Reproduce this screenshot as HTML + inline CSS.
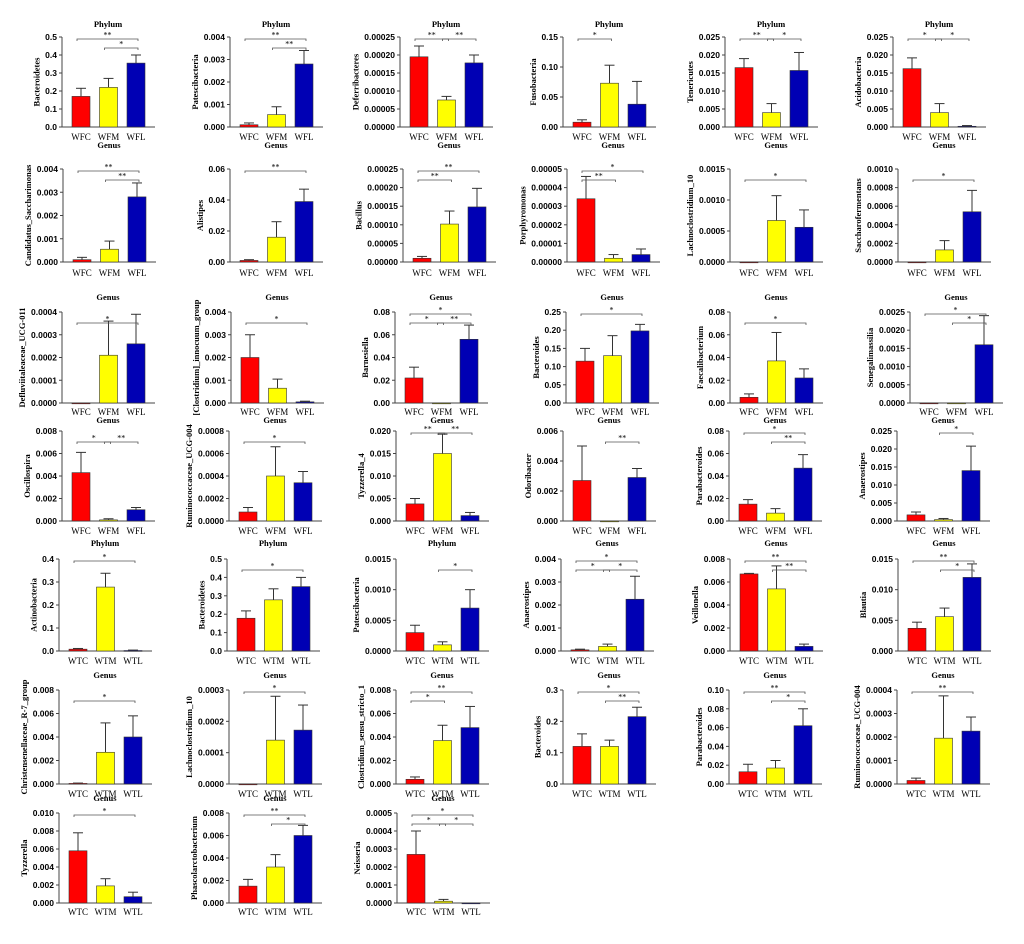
<!DOCTYPE html>
<html><head><meta charset="utf-8"><style>
body{margin:0;background:#fff}
svg text{font-family:"Liberation Serif",serif}
</style></head><body>
<svg id="s" width="1024" height="939" xmlns="http://www.w3.org/2000/svg"></svg>
<script>
const rows=[
 {title:27,top:37,bot:127,lab:140,xl:["WFC","WFM","WFL"],cx:[81,249,419,582,744,912]},
 {title:148,top:169,bot:262,lab:276,xl:["WFC","WFM","WFL"],cx:[82,249,422,586,749,917]},
 {title:300,top:312,bot:403,lab:415,xl:["WFC","WFM","WFL"],cx:[81,250,414,585,749,929]},
 {title:423,top:431,bot:521,lab:534,xl:["WFC","WFM","WFL"],cx:[81,248,415,582,748,916]},
 {title:546,top:559,bot:651,lab:664,xl:["WTC","WTM","WTL"],cx:[78,246,415,580,749,917]},
 {title:678,top:690,bot:784,lab:797,xl:["WTC","WTM","WTL"],cx:[78,248,415,582,748,916]},
 {title:801,top:813,bot:903,lab:915,xl:["WTC","WTM","WTL"],cx:[78,248,416]}];
const P=[
["Phylum","Bacteroidetes",0.5,0.1,1,[.17,.22,.355],[.045,.05,.045],[[0,2,'**',0],[1,2,'*',1]]],
["Phylum","Patescibacteria",0.004,0.001,3,[.0001,.00055,.0028],[.00008,.00035,.0006],[[0,2,'**',0],[1,2,'**',1]]],
["Phylum","Deferribacteres",0.00025,0.00005,5,[.000195,.000075,.000178],[.00003,.00001,.000022],[[0,1,'**',0],[1,2,'**',0]]],
["Phylum","Fusobacteria",0.15,0.05,2,[.008,.073,.038],[.004,.03,.038],[[0,1,'*',0]]],
["Phylum","Tenericutes",0.025,0.005,3,[.0165,.004,.0157],[.0025,.0025,.005],[[0,1,'**',0],[1,2,'*',0]]],
["Phylum","Acidobacteria",0.025,0.005,3,[.0162,.004,.0002],[.003,.0025,.0002],[[0,1,'*',0],[1,2,'*',0]]],
["Genus","Candidatus_Saccharimonas",0.004,0.001,3,[.0001,.00055,.0028],[.0001,.00035,.0006],[[0,2,'**',0],[1,2,'**',1]]],
["Genus","Alistipes",0.06,0.02,2,[.001,.016,.039],[.0005,.01,.008],[[0,2,'**',0]]],
["Genus","Bacillus",0.00025,0.00005,5,[.00001,.000102,.000148],[.000005,.000035,.00005],[[0,2,'**',0],[0,1,'**',1]]],
["Genus","Porphyromonas",0.00005,0.00001,5,[.000034,.000002,.000004],[.000012,.000002,.000003],[[0,2,'*',0],[0,1,'**',1]]],
["Genus","Lachnoclostridium_10",0.0015,0.0005,4,[0,.00067,.00056],[0,.0004,.00028],[[0,2,'*',1]]],
["Genus","Saccharofermentans",0.001,0.0002,4,[0,.00013,.00054],[0,.0001,.00023],[[0,2,'*',1]]],
["Genus","Defluviitaleaceae_UCG-011",0.0004,0.0001,4,[0,.00021,.00026],[0,.00015,.00013],[[0,2,'*',1]]],
["Genus","[Clostridium]_innocuum_group",0.004,0.001,3,[.002,.00065,.00005],[.001,.0004,.00003],[[0,2,'*',1]]],
["Genus","Barnesiella",0.08,0.02,2,[.022,0,.056],[.0095,0,.0125],[[0,2,'*',0],[0,1,'*',1],[1,2,'**',1]]],
["Genus","Bacteroides",0.25,0.05,2,[.115,.13,.198],[.035,.055,.018],[[0,2,'*',0]]],
["Genus","Faecalibacterium",0.08,0.02,2,[.005,.037,.022],[.003,.025,.008],[[0,2,'*',1]]],
["Genus","Senegalimassilia",0.0025,0.0005,4,[0,0,.0016],[0,0,.0008],[[0,2,'*',0],[1,2,'*',1]]],
["Genus","Oscillospira",0.008,0.002,3,[.0043,.0001,.001],[.0018,.0001,.0002],[[0,1,'*',1],[1,2,'**',1]]],
["Genus","Ruminococcaceae_UCG-004",0.0008,0.0002,4,[.00008,.0004,.00034],[.00004,.00026,.0001],[[0,2,'*',1]]],
["Genus","Tyzzerella_4",0.02,0.005,3,[.0038,.015,.0012],[.0012,.0043,.0007],[[0,1,'**',0],[1,2,'**',0]]],
["Genus","Odoribacter",0.006,0.002,3,[.0027,0,.0029],[.0023,0,.0006],[[1,2,'**',1]]],
["Genus","Parabacteroides",0.08,0.02,2,[.015,.007,.047],[.004,.004,.012],[[0,2,'*',0],[1,2,'**',1]]],
["Genus","Anaerostipes",0.025,0.005,3,[.0017,.0004,.014],[.0008,.0003,.0068],[[1,2,'*',0]]],
["Phylum","Actinobacteria",0.4,0.1,1,[.008,.278,.002],[.003,.06,.002],[[0,2,'*',0]]],
["Phylum","Bacteroidetes",0.5,0.1,1,[.178,.278,.35],[.04,.06,.05],[[0,2,'*',1]]],
["Phylum","Patescibacteria",0.0015,0.0005,4,[.0003,.0001,.0007],[.00012,.00005,.0003],[[1,2,'*',1]]],
["Genus","Anaerostipes",0.004,0.001,3,[.00005,.0002,.00225],[.00003,.0001,.001],[[0,2,'*',0],[0,1,'*',1],[1,2,'*',1]]],
["Genus","Veillonella",0.008,0.002,3,[.0067,.0054,.0004],[.00005,.002,.0002],[[0,2,'**',0],[1,2,'**',1]]],
["Genus","Blautia",0.015,0.005,3,[.0037,.0056,.012],[.001,.0014,.0022],[[0,2,'**',0],[1,2,'*',1]]],
["Genus","Christensenellaceae_R-7_group",0.008,0.002,3,[.00005,.0027,.004],[.00003,.0025,.0018],[[0,2,'*',1]]],
["Genus","Lachnoclostridium_10",0.0003,0.0001,4,[0,.00014,.000172],[0,.00014,.00008],[[0,2,'*',0]]],
["Genus","Clostridium_sensu_stricto_1",0.008,0.002,3,[.0004,.0037,.0048],[.0002,.0013,.0018],[[0,2,'**',0],[0,1,'*',1]]],
["Genus","Bacteroides",0.3,0.1,1,[.12,.12,.215],[.04,.02,.03],[[0,2,'*',0],[1,2,'**',1]]],
["Genus","Parabacteroides",0.1,0.02,2,[.013,.017,.062],[.008,.008,.018],[[0,2,'**',0],[1,2,'*',1]]],
["Genus","Ruminococcaceae_UCG-004",0.0004,0.0001,4,[.000015,.000195,.000225],[.00001,.00018,.00006],[[0,2,'**',0]]],
["Genus","Tyzzerella",0.01,0.002,3,[.0058,.0019,.0007],[.002,.0008,.0005],[[0,2,'*',0]]],
["Genus","Phascolarctobacterium",0.008,0.002,3,[.0015,.0032,.006],[.0006,.0011,.0009],[[0,2,'**',0],[1,2,'*',1]]],
["Genus","Neisseria",0.0005,0.0001,4,[.00027,.00001,0],[.00013,.00001,0],[[0,2,'*',0],[0,1,'*',1],[1,2,'*',1]]]];
const cols=["#ff0000","#ffff00","#0000b4"];
let h="";
P.forEach((p,i)=>{
 const r=rows[Math.floor(i/6)],c=r.cx[i%6];
 const [tt,yl,mx,st,dec,v,e,sg]=p;
 const ax=c-19,T=r.top,B=r.bot,y=x=>B-(B-T)*x/mx;
 const cs=[c,c+27.5,c+55];
 h+=`<line x1="${ax}" y1="${T}" x2="${ax}" y2="${B}" stroke="#444" stroke-width="1"/>`;
 h+=`<line x1="${ax}" y1="${B}" x2="${c+74}" y2="${B}" stroke="#444" stroke-width="1"/>`;
 let lw=0;
 for(let k=0;k<=Math.round(mx/st);k++){const val=k*st,yy=y(val),s=val.toFixed(dec);lw=Math.max(lw,s.length);
  h+=`<line x1="${ax-3}" y1="${yy}" x2="${ax}" y2="${yy}" stroke="#444"/>`;
  h+=`<text x="${ax-5}" y="${yy+3}" font-size="8.5" font-weight="bold" text-anchor="end" style="font-family:'Liberation Sans',sans-serif">${s}</text>`;}
 const lx=ax-8-lw*4.8;
 h+=`<text transform="translate(${lx},${(T+B)/2}) rotate(-90)" font-size="8.5" font-weight="bold" text-anchor="middle">${yl}</text>`;
 h+=`<text x="${c+27}" y="${r.title}" font-size="8.5" font-weight="bold" text-anchor="middle">${tt}</text>`;
 v.forEach((val,j)=>{const x0=cs[j]-9,top=y(val);
  if(e[j]>0){const et=y(val+e[j]);h+=`<line x1="${cs[j]}" y1="${et}" x2="${cs[j]}" y2="${top}" stroke="#333"/><line x1="${cs[j]-5}" y1="${et}" x2="${cs[j]+5}" y2="${et}" stroke="#333"/>`;}
  h+=`<rect x="${x0}" y="${top}" width="18" height="${Math.max(B-top,0.8)}" fill="${cols[j]}" stroke="#333" stroke-width="0.6"/>`;
  h+=`<text x="${cs[j]}" y="${r.lab}" font-size="9" text-anchor="middle">${r.xl[j]}</text>`;});
 sg.forEach(([a,b,s,l])=>{const yy=T+2+l*9,x1=cs[a]-4,x2=cs[b]+2;
  h+=`<path d="M${x1} ${yy+2}V${yy}H${x2}V${yy+2}" fill="none" stroke="#555" stroke-width="0.8"/>`;
  h+=`<text x="${(x1+x2)/2}" y="${yy-1.5}" font-size="8" text-anchor="middle">${s}</text>`;});
});
document.getElementById("s").innerHTML=h;
</script>
</body></html>
